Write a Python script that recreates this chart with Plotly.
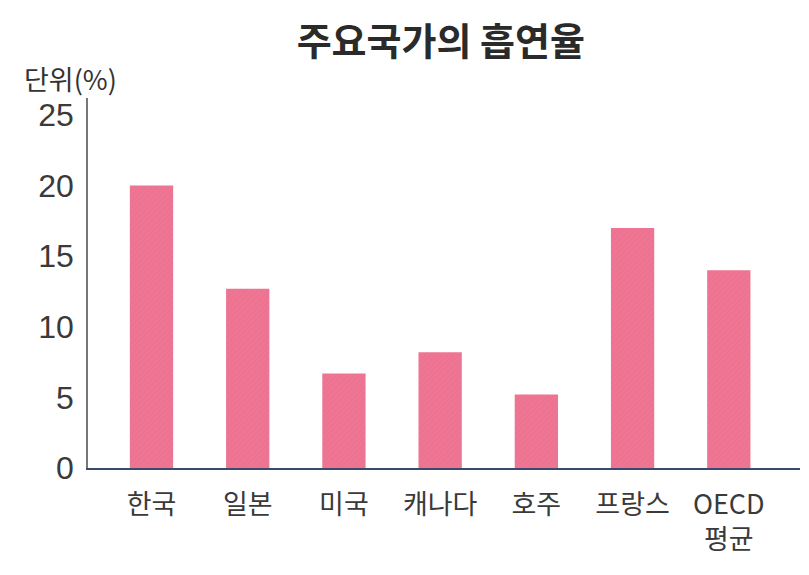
import plotly.graph_objects as go

# 주요국가의 흡연율 (단위: %)
countries = ["한국", "일본", "미국", "캐나다", "호주", "프랑스", "OECD<br>평균"]
rates = [20.0, 12.7, 6.7, 8.2, 5.2, 17.0, 14.0]
y_ticks = [0, 5, 10, 15, 20, 25]

fig = go.Figure()
fig.add_trace(go.Bar(
    x=list(range(len(countries))),
    y=rates,
    width=0.45,
    marker=dict(color="#EE7593", line=dict(width=0),
                pattern=dict(shape="/", fgcolor="#E4617F", size=4, solidity=0.15)),
))

# page body has an 8px margin, so the figure is pulled up/left by that much
fig.update_layout(
    width=809, height=575,
    paper_bgcolor="white", plot_bgcolor="white",
    margin=dict(l=80, r=17, t=90, b=115),
    showlegend=False,
    font=dict(family="Noto Sans CJK KR", color="#333333"),
    title=dict(text="주요국가의 흡연율", x=0.535, xanchor="center", y=0.941, yanchor="middle",
               font=dict(size=38, color="#2a2a2a", weight=600)),
    bargap=0.55,
)
fig.update_xaxes(
    range=[-0.66, 6.74],
    tickvals=list(range(len(countries))),
    ticktext=countries,
    showline=True, linecolor="#3a4a6a", linewidth=1.5,
    showgrid=False, ticks="", automargin=False,
    ticklabelstandoff=12,
    tickfont=dict(size=27, color="#3a3a3a"),
)
fig.update_yaxes(
    range=[0, 26.2],
    tickvals=y_ticks,
    showline=True, linecolor="#777777", linewidth=1.5,
    showgrid=False, zeroline=False, ticks="", automargin=False,
    ticklabelstandoff=6,
    tickfont=dict(family="Liberation Sans Narrow, Liberation Sans", size=32, color="#3a3a3a"),
)
fig.add_annotation(text="단위(%)", xref="paper", yref="paper", x=-0.093, y=1.0,
                   xanchor="left", yanchor="middle", yshift=20, showarrow=False,
                   font=dict(size=27, color="#333333"))

fig.write_html("out.html")
